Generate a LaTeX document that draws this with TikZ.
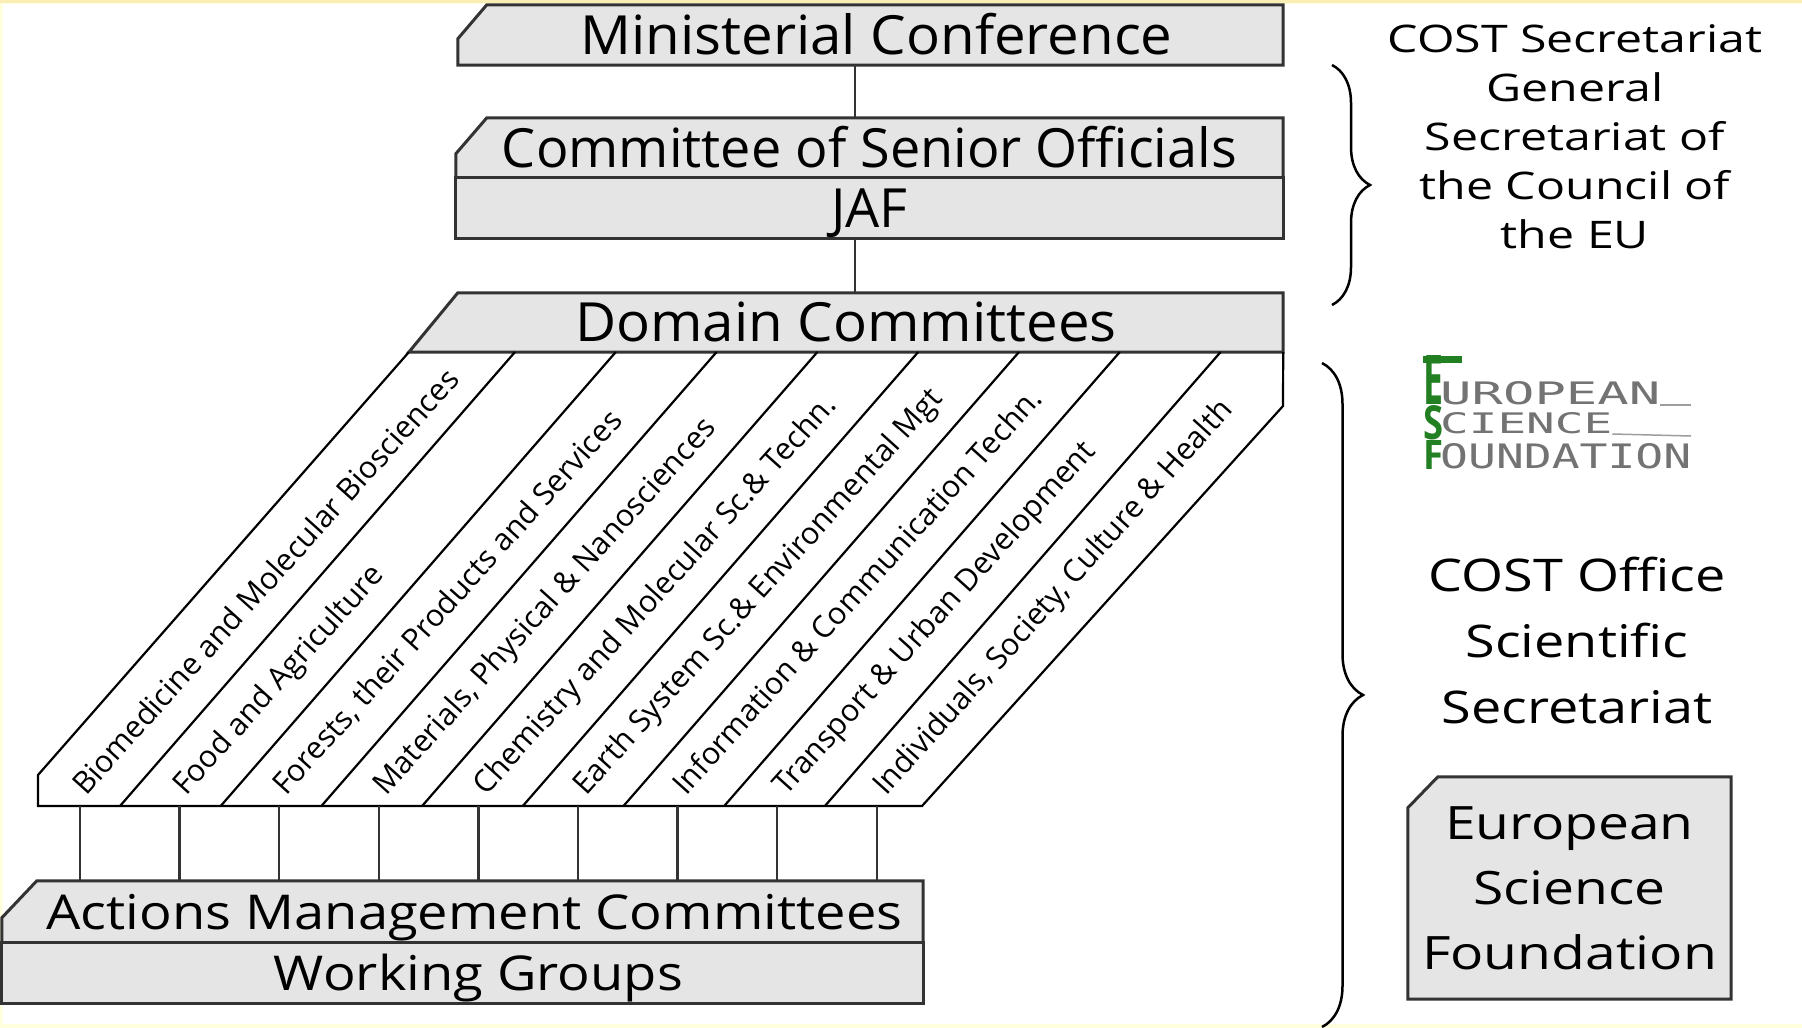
\documentclass[tikz,border=0pt]{standalone}
\usepackage{fontspec}
\usepackage{graphicx}
\setmainfont{Open Sans}
\newfontfamily\wideA[FakeStretch=1.045]{Open Sans}
\newfontfamily\wideB[FakeStretch=1.13]{Open Sans}
\newfontfamily\wideC[FakeStretch=1.2]{Open Sans}
\newfontfamily\wideD[FakeStretch=1.27]{Open Sans}
\newfontfamily\logofont{DejaVu Sans Mono}
\usetikzlibrary{backgrounds,decorations.pathreplacing}

\definecolor{boxgray}{RGB}{229,229,229}
\definecolor{edgegray}{RGB}{51,51,51}
\definecolor{framey}{RGB}{255,255,222}
\definecolor{topy}{RGB}{250,238,180}
\definecolor{esfgreen}{RGB}{34,128,34}
\definecolor{esfgray}{RGB}{115,115,115}

\tikzset{
  boxlabel/.style={inner sep=0pt, text height=38pt, text depth=0pt, font=\fontsize{54}{60}\selectfont},
  lowlabel/.style={boxlabel, text height=34pt, font=\wideB\fontsize{48}{54}\selectfont},
  boxline/.style={draw=edgegray, fill=boxgray, line width=3pt},
  stripe/.style={black, line width=2.2pt},
  link/.style={edgegray, line width=2.5pt},
  domlabel/.style={anchor=base west, rotate=48, inner sep=0pt, font=\fontsize{30.5}{32}\selectfont},
  sidetext/.style={align=center, inner sep=0pt},
  logoletter/.style={anchor=south west, inner sep=0pt},
  bracket/.style={decorate, line width=2.5pt},
}

\begin{document}
\begin{tikzpicture}[x=1pt,y=-1pt]
\useasboundingbox (0,0) rectangle (1802,1028);

% committee tree
\node[boxlabel, font=\wideA\fontsize{54}{60}\selectfont, minimum width=825, minimum height=60] (min) at (870.5,35) {\hspace*{12pt}Ministerial Conference};
\node[boxlabel, minimum width=827, minimum height=60] (cso) at (869.5,148) {Committee of Senior Officials};
\node[boxlabel, minimum width=827, minimum height=60] (jaf) at (869.5,208) {JAF};
\node[boxlabel, font=\wideA\fontsize{54}{60}\selectfont, minimum width=874, minimum height=59] (dom) at (846,322.5) {Domain Committees};
\node[lowlabel, minimum width=921, minimum height=62] (amc) at (462.5,912) {\hspace*{24pt}Actions Management Committees};
\node[lowlabel, minimum width=921, minimum height=60] (wg) at (462.5,973) {\hspace*{32pt}Working Groups};

\coordinate (spine) at (855,0);
\draw[link] (min.south -| spine) -- (cso.north -| spine);
\draw[link] (jaf.south -| spine) -- (dom.north -| spine);

% the nine domains
\draw[stripe] (dom.south west) -- (38,775) -- (38,806) -- (922,806) -- (1283,406) -- (dom.south east);
\foreach \k in {1,...,8}
  \draw[stripe] ({120+100.7*(\k-1)},806) -- ({515+100.8*(\k-1)},352);
\foreach \lbl [count=\i from 0] in {Biomedicine and Molecular Biosciences, Food and Agriculture,
    {Forests, their Products and Services}, {Materials, Physical \& Nanosciences},
    Chemistry and Molecular Sc.\& Techn., Earth System Sc.\& Environmental Mgt,
    Information \& Communication Techn., Transport \& Urban Development,
    {Individuals, Society, Culture \& Health}}
  \node[domlabel] (d\i) at ({86+100*\i},797) {\lbl};
\foreach \i in {0,...,8} {
  \coordinate (sb\i) at ({80+99.6*\i},806);
  \draw[link] (sb\i) -- (sb\i |- amc.north);
}

% secretariats
\node[sidetext, font=\wideD\fontsize{38}{49}\selectfont] (sec) at (1575,137)
  {COST Secretariat\\General\\Secretariat of\\the Council of\\the EU};
\node[sidetext, font=\wideC\fontsize{45}{66}\selectfont] (off) at (1577,640)
  {COST Office\\Scientific\\Secretariat};
\node[sidetext, font=\wideC\fontsize{46}{65}\selectfont, minimum width=323, minimum height=222] (esf) at (1569.5,888)
  {European\\Science\\Foundation};
\draw[bracket, decoration={brace, amplitude=38pt}] (1332,65) -- (1332,305);
\draw[bracket, decoration={brace, amplitude=41pt}] (1322,363) -- (1322,1027);

% ESF logo
\fill[esfgreen] (1423,356) rectangle (1462,363);
\node[logoletter, text=esfgreen] (esfE) at (1423,405) {\resizebox{20pt}{49pt}{\bfseries E}};
\node[logoletter, text=esfgreen] (esfS) at (1423,440) {\resizebox{20pt}{34pt}{\bfseries S}};
\node[logoletter, text=esfgreen] (esfF) at (1423,470) {\resizebox{20pt}{29pt}{\bfseries F}};
\node[logoletter, text=esfgray] (esfU) at (1440,405) {\resizebox{220pt}{23pt}{\logofont UROPEAN}};
\node[logoletter, text=esfgray] (esfC) at (1440,434) {\resizebox{172pt}{21pt}{\logofont CIENCE}};
\node[logoletter, text=esfgray] (esfO) at (1440,469) {\resizebox{251pt}{25pt}{\logofont OUNDATION}};
\draw[esfgray!70, line width=1.5pt] (esfU.south east) -- (1691,405);
\draw[esfgray!70, line width=1.5pt] (esfC.south east) -- (1691,436);

\begin{scope}[on background layer]
  \fill[framey] (0,0) rectangle (1802,1028);
  \fill[white] (3,4) rectangle (1802,1024);
  \fill[topy] (0,0) rectangle (1802,3);
  \filldraw[boxline] ([xshift=29pt]min.north west) -- (min.north east) -- (min.south east)
    -- (min.south west) -- ([yshift=-34pt]min.north west) -- cycle;
  \filldraw[boxline] ([xshift=31pt]cso.north west) -- (cso.north east) -- (cso.south east)
    -- (cso.south west) -- ([yshift=-36pt]cso.north west) -- cycle;
  \filldraw[boxline] (jaf.north west) rectangle (jaf.south east);
  \filldraw[boxline] ([xshift=49pt]dom.north west) -- (dom.north east) -- (dom.south east)
    -- (dom.south west) -- cycle;
  \filldraw[boxline] ([xshift=35pt]amc.north west) -- (amc.north east) -- (amc.south east)
    -- (amc.south west) -- ([yshift=-37pt]amc.north west) -- cycle;
  \filldraw[boxline] (wg.north west) rectangle (wg.south east);
  \filldraw[boxline] ([xshift=30pt]esf.north west) -- (esf.north east) -- (esf.south east)
    -- (esf.south west) -- ([yshift=-31pt]esf.north west) -- cycle;
\end{scope}
\end{tikzpicture}
\end{document}
